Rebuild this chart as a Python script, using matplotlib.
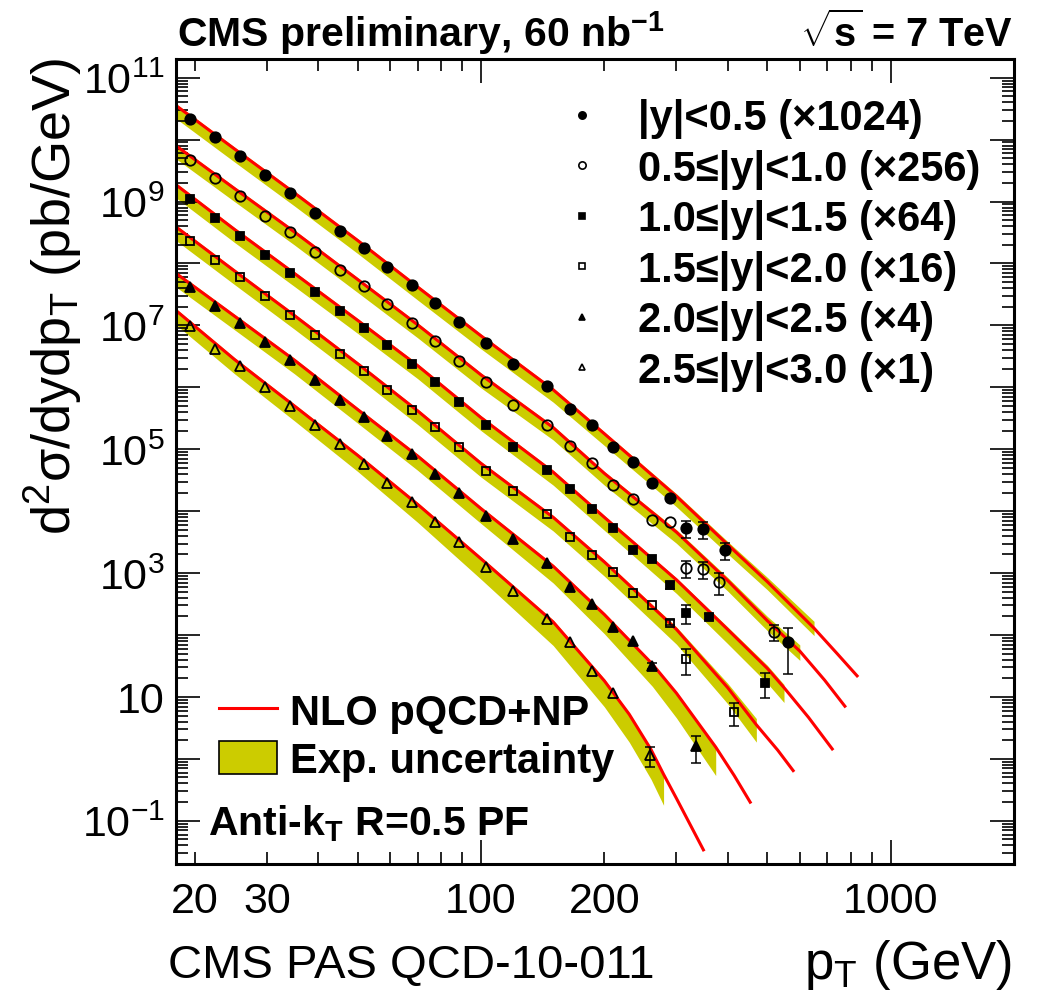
import numpy as np
import matplotlib
matplotlib.use("Agg")
import matplotlib.pyplot as plt
from matplotlib.lines import Line2D
from matplotlib.patches import Patch
from matplotlib.ticker import FixedLocator, FuncFormatter

# Fonts: Liberation Sans is metric-compatible with Helvetica (ROOT style)
plt.rcParams['font.family'] = ['Liberation Sans', 'DejaVu Sans']
plt.rcParams['mathtext.fontset'] = 'custom'
plt.rcParams['mathtext.rm'] = 'Liberation Sans'
plt.rcParams['mathtext.it'] = 'Liberation Sans'
plt.rcParams['mathtext.sf'] = 'Liberation Sans'
plt.rcParams['mathtext.bf'] = 'Liberation Sans:bold'

# 1) Measured points: pT bin centres (GeV) and log10 of scaled cross section
pt = [19.5, 22.4, 25.8, 29.7, 34.2, 39.4, 45.3, 51.7, 58.9, 67.7, 77.2, 88.5,
      102.8, 119.8, 144.5, 164.9, 186.6, 210, 235, 261, 288.5, 316, 347.5]

pt1 = pt + [395, 561]
y1 = [10.329, 10.039, 9.737, 9.435, 9.140, 8.818, 8.527, 8.253, 7.942, 7.645,
      7.361, 7.055, 6.716, 6.377, 6.027, 5.652, 5.394, 5.032, 4.790, 4.447,
      4.216, 3.726, 3.705, 3.371, 1.887]
e1 = [0] * 21 + [0.3, 0.3, 0.3, 0.7]

pt2 = pt + [380, 518]
y2 = [9.677, 9.382, 9.097, 8.769, 8.511, 8.189, 7.887, 7.629, 7.339, 7.032,
      6.742, 6.431, 6.087, 5.710, 5.387, 5.060, 4.781, 4.419, 4.200, 3.861,
      3.823, 3.076, 3.060, 2.861, 2.048]
e2 = [0] * 21 + [0.3, 0.3, 0.38, 0.28]

pt3 = pt[:22] + [361, 494]
y3 = [9.044, 8.732, 8.442, 8.135, 7.839, 7.532, 7.232, 6.958, 6.677, 6.371,
      6.081, 5.765, 5.394, 5.032, 4.661, 4.361, 4.032, 3.726, 3.371, 3.221,
      2.802, 2.361, 2.297, 1.232]
e3 = [0] * 20 + [0.12, 0.35, 0.12, 0.44]

pt4 = pt[:22] + [414]
y4 = [8.366, 8.055, 7.774, 7.479, 7.168, 6.839, 6.544, 6.258, 5.963, 5.640,
      5.361, 5.032, 4.652, 4.318, 3.947, 3.587, 3.290, 3.016, 2.684, 2.484,
      2.200, 1.619, 0.758]
e4 = [0] * 20 + [0.1, 0.45, 0.4]

pt5 = pt[:20] + [335]
y5 = [7.613, 7.306, 7.039, 6.732, 6.447, 6.124, 5.802, 5.516, 5.210, 4.926,
      4.603, 4.285, 3.919, 3.544, 3.168, 2.781, 2.495, 2.135, 1.903, 1.500,
      0.200]
e5 = [0] * 19 + [0.12, 0.45]

pt6 = pt[:18] + [259]
y6 = [6.984, 6.624, 6.339, 6.006, 5.705, 5.398, 5.087, 4.769, 4.458, 4.145,
      3.823, 3.500, 3.103, 2.710, 2.265, 1.894, 1.419, 1.060, 0.060]
e6 = [0] * 18 + [0.35]

# 2) NLO pQCD+NP curves (log10) and experimental band offsets (decades)
th_pt1 = [18, 25, 35, 50, 70, 100, 150, 200, 300, 400, 500, 650, 740, 828]
th_y1 = [10.55, 9.85, 9.14, 8.37, 7.62, 6.83, 5.96, 5.25, 4.24, 3.46, 2.86, 2.11, 1.70, 1.34]
up1 = [0.03] * 8 + [0.04, 0.05, 0.07, 0.11]
dn1 = [-0.21] * 6 + [-0.20, -0.19, -0.17, -0.15, -0.13, -0.12]

th_pt2 = [18, 25, 35, 50, 70, 100, 150, 200, 300, 400, 500, 600, 690, 773]
th_y2 = [9.90, 9.21, 8.51, 7.74, 7.01, 6.20, 5.35, 4.61, 3.66, 2.88, 2.23, 1.74, 1.27, 0.85]
up2 = [0.03] * 8 + [0.04, 0.05, 0.07, 0.10]
dn2 = [-0.21] * 6 + [-0.20, -0.19, -0.18, -0.17, -0.16, -0.15]

th_pt3 = [18, 25, 35, 50, 70, 100, 150, 200, 300, 400, 500, 549, 630, 720]
th_y3 = [9.27, 8.55, 7.84, 7.08, 6.35, 5.51, 4.63, 3.90, 2.89, 2.09, 1.46, 1.15, 0.67, 0.16]
up3 = [0.03] * 8 + [0.03, 0.04, 0.05, 0.05]
dn3 = [-0.21] * 8 + [-0.22, -0.23, -0.24, -0.24]

th_pt4 = [18, 25, 35, 50, 70, 100, 150, 200, 300, 400, 470, 530, 578]
th_y4 = [8.59, 7.88, 7.16, 6.38, 5.62, 4.77, 3.90, 3.18, 2.09, 1.15, 0.55, 0.14, -0.19]
up4 = [0.03] * 8 + [0.04, 0.07, 0.10]
dn4 = [-0.22] * 7 + [-0.23, -0.24, -0.26, -0.28]

th_pt5 = [18, 25, 35, 50, 70, 100, 150, 200, 262, 300, 374, 415, 454]
th_y5 = [7.84, 7.15, 6.44, 5.64, 4.89, 4.04, 3.11, 2.33, 1.53, 1.06, 0.19, -0.27, -0.70]
up5 = [0.03] * 8 + [0.02, 0.01, 0.0]
dn5 = [-0.22, -0.22, -0.22, -0.22, -0.23, -0.24, -0.27, -0.31, -0.36, -0.40, -0.46]

th_pt6 = [18, 25, 35, 50, 70, 100, 150, 200, 230, 260, 279, 300, 349]
th_y6 = [7.24, 6.45, 5.70, 4.90, 4.11, 3.23, 2.21, 1.26, 0.72, 0.15, -0.25, -0.64, -1.47]
up6 = [0.03] * 8 + [0.02, 0.01, 0.0]
dn6 = [-0.23, -0.23, -0.24, -0.26, -0.29, -0.33, -0.38, -0.42, -0.45, -0.48, -0.50]

labels = ["|y|<0.5 (\u00d71024)", "0.5\u2264|y|<1.0 (\u00d7256)",
          "1.0\u2264|y|<1.5 (\u00d764)", "1.5\u2264|y|<2.0 (\u00d716)",
          "2.0\u2264|y|<2.5 (\u00d74)", "2.5\u2264|y|<3.0 (\u00d71)"]
markers = ["o", "o", "s", "s", "^", "^"]
filled = [True, False, True, False, True, False]
msizes = [7.5, 7.5, 6.3, 6.3, 6.8, 6.8]

series = [(pt1, y1, e1, th_pt1, th_y1, up1, dn1),
          (pt2, y2, e2, th_pt2, th_y2, up2, dn2),
          (pt3, y3, e3, th_pt3, th_y3, up3, dn3),
          (pt4, y4, e4, th_pt4, th_y4, up4, dn4),
          (pt5, y5, e5, th_pt5, th_y5, up5, dn5),
          (pt6, y6, e6, th_pt6, th_y6, up6, dn6)]

band_col = "#cccc00"

# 3) Figure
fig = plt.figure(figsize=(10.57, 10.04), dpi=100)
ax = fig.add_axes([0.1665, 0.1384, 0.7928, 0.8018])
ax.set_xscale("log")
ax.set_yscale("log")

for i, (px, py, pe, tx, ty, up, dn) in enumerate(series):
    tx = np.array(tx)
    ty = np.array(ty)
    nb = len(up)
    ax.fill_between(tx[:nb], 10 ** (ty[:nb] + np.array(dn)), 10 ** (ty[:nb] + np.array(up)),
                    color=band_col, lw=0, zorder=1)
    ax.plot(tx, 10 ** ty, color="red", lw=2.2, zorder=2)

    px = np.array(px)
    val = 10 ** np.array(py)
    err = np.array(pe)
    has_err = err > 0
    if has_err.any():
        ax.errorbar(px[has_err], val[has_err], yerr=val[has_err] * err[has_err],
                    fmt="none", ecolor="black", elinewidth=1.1, capsize=3.5,
                    capthick=1.1, zorder=3)
    ax.plot(px, val, ls="none", marker=markers[i], ms=msizes[i],
            mfc="black" if filled[i] else "none", mec="black", mew=1.3, zorder=4)

ax.set_xlim(18, 2000)
ax.set_ylim(0.02, 2e11)

# x ticks: majors at 100, 1000; minor labels only at 20, 30, 200
ax.xaxis.set_major_locator(FixedLocator([100, 1000]))
ax.xaxis.set_minor_locator(FixedLocator([20, 30, 40, 50, 60, 70, 80, 90,
                                         200, 300, 400, 500, 600, 700, 800, 900]))
ax.xaxis.set_major_formatter(FuncFormatter(lambda v, p: f"{v:g}"))
ax.xaxis.set_minor_formatter(FuncFormatter(
    lambda v, p: f"{v:g}" if round(v) in (20, 30, 200) else ""))


def ylab(v, p):
    k = int(round(np.log10(v)))
    if k % 2 == 0:
        return ""
    if k == 1:
        return "10"
    return r"$\mathregular{10^{%d}}$" % k


ax.yaxis.set_major_locator(FixedLocator([10.0 ** k for k in range(-1, 12)]))
ax.yaxis.set_minor_locator(FixedLocator([m * 10.0 ** k for k in range(-2, 12)
                                         for m in range(2, 10)]))
ax.yaxis.set_major_formatter(FuncFormatter(ylab))
ax.yaxis.set_minor_formatter(FuncFormatter(lambda v, p: ""))

ax.tick_params(which="both", direction="in", top=True, right=True,
               labelsize=31, width=1.2)
ax.tick_params(which="major", length=17)
ax.tick_params(which="minor", length=8.5)
ax.tick_params(axis="x", which="both", pad=12)
ax.tick_params(axis="y", which="both", pad=8)
for s in ax.spines.values():
    s.set_linewidth(2.2)

# 4) Legends
handles = [Line2D([], [], ls="none", marker=markers[i], ms=msizes[i] * 0.7,
                  mfc="black" if filled[i] else "none", mec="black", mew=1.2)
           for i in range(6)]
leg1 = ax.legend(handles, labels, loc="upper left", bbox_to_anchor=(0.4597, 0.951),
                 frameon=False, borderpad=0, borderaxespad=0, handlelength=1.0,
                 handletextpad=0.84, labelspacing=0.25,
                 prop={"weight": "bold", "size": 30})
ax.add_artist(leg1)

h2 = [Line2D([], [], color="red", lw=2.2),
      Patch(facecolor=band_col, edgecolor="black", lw=1.2)]
ax.legend(h2, ["NLO pQCD+NP", "Exp. uncertainty"], loc="upper left",
          bbox_to_anchor=(0.0513, 0.213), frameon=False, borderpad=0,
          borderaxespad=0, handlelength=1.39, handleheight=0.85,
          handletextpad=0.31, labelspacing=0.19,
          prop={"weight": "bold", "size": 30})

# 5) Texts
fig.text(0.167, 0.9535, r"CMS preliminary, 60 nb$^{\mathbf{-1}}$", fontsize=29.5,
         fontweight="bold", ha="left", va="baseline")
fig.text(0.958, 0.9535, r"$\sqrt{\mathbf{s}}$ = 7 TeV", fontsize=28.5,
         fontweight="bold", ha="right", va="baseline")
fig.text(0.197, 0.168, r"Anti-k$_{\mathbf{T}}$ R=0.5 PF", fontsize=29.5,
         fontweight="bold", ha="left", va="baseline")
fig.text(0.159, 0.0256, "CMS PAS QCD-10-011", fontsize=34, ha="left", va="baseline")
fig.text(0.957, 0.0245, r"p$_{T}$ (GeV)", fontsize=38, ha="right", va="baseline")
fig.text(0.05, 0.942, r"d$^{2}\sigma$/dydp$_{T}$ (pb/GeV)", fontsize=39,
         rotation=90, ha="center", va="top")

fig.savefig("out.png", dpi=100)
